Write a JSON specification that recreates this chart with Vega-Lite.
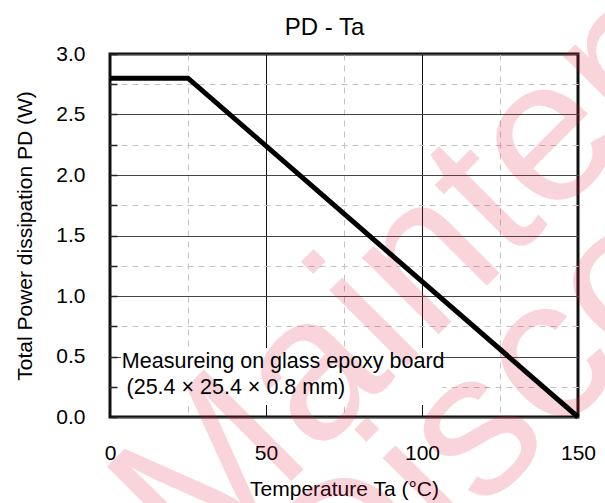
{
  "$schema": "https://vega.github.io/schema/vega-lite/v6.json",
  "autosize": "none",
  "width": 468,
  "height": 363,
  "padding": {"left": 110, "top": 54, "right": 27, "bottom": 86},
  "background": "white",
  "config": {
    "font": "Liberation Sans",
    "view": {"stroke": "#111", "strokeWidth": 3}
  },
  "datasets": {
    "curve": [
      {"ta": 0, "pd": 2.8},
      {"ta": 25, "pd": 2.8},
      {"ta": 150, "pd": 0}
    ],
    "box": [
      {"x1": 3.5, "x2": 106.5, "y1": 0.1, "y2": 0.57}
    ],
    "note": [
      {"ta": 3.8, "pd": 0.452, "label": "Measureing on glass epoxy board"},
      {"ta": 5.3, "pd": 0.238, "label": "(25.4 × 25.4 × 0.8 mm)"}
    ],
    "heading": [
      {"ta": 68.75, "pd": 3.157, "label": "PD - Ta"}
    ],
    "mark": [
      {"ta": 27.2, "pd": -1.33, "label": "Maintenance"},
      {"ta": 75.3, "pd": -1.917, "label": "Discontinued"}
    ]
  },
  "encoding": {
    "x": {
      "field": "ta",
      "type": "quantitative",
      "scale": {"domain": [0, 150], "nice": false, "zero": false},
      "axis": {
        "title": "Temperature Ta (°C)",
        "values": [0, 25, 50, 75, 100, 125, 150],
        "labelExpr": "datum.value % 50 === 0 ? datum.label : ''",
        "labelFlush": false,
        "labelFontSize": 21,
        "labelColor": "black",
        "labelPadding": 25,
        "labelBaseline": "top",
        "titleFontSize": 21,
        "titleFontWeight": "normal",
        "titleColor": "black",
        "titlePadding": 15,
        "ticks": false,
        "domain": false,
        "grid": true,
        "gridColor": {"condition": {"test": "datum.value % 50 !== 0", "value": "#c4c4c4"}, "value": "#111"},
        "gridDash": {"condition": {"test": "datum.value % 50 !== 0", "value": [6, 5]}, "value": []},
        "gridWidth": 1,
        "gridOpacity": 1
      }
    },
    "y": {
      "field": "pd",
      "type": "quantitative",
      "scale": {"domain": [0, 3], "nice": false, "zero": false},
      "axis": {
        "title": "Total Power dissipation PD (W)",
        "values": [0, 0.25, 0.5, 0.75, 1, 1.25, 1.5, 1.75, 2, 2.25, 2.5, 2.75, 3],
        "format": ".1f",
        "labelExpr": "(datum.value * 4) % 2 === 0 ? datum.label : ''",
        "labelFlush": false,
        "labelFontSize": 21,
        "labelColor": "black",
        "labelPadding": 32,
        "tickSize": -7,
        "tickColor": "#222",
        "tickWidth": 1.5,
        "titleFontSize": 21,
        "titleFontWeight": "normal",
        "titleColor": "black",
        "titlePadding": 20,
        "domain": false,
        "grid": true,
        "gridColor": {"condition": {"test": "(datum.value * 4) % 2 === 1", "value": "#c4c4c4"}, "value": "#444"},
        "gridDash": {"condition": {"test": "(datum.value * 4) % 2 === 1", "value": [6, 5]}, "value": []},
        "gridWidth": 1.2,
        "gridOpacity": 1
      }
    }
  },
  "layer": [
    {
      "data": {"name": "box"},
      "mark": {"type": "rect", "fill": "white", "stroke": null},
      "encoding": {
        "x": {"field": "x1", "type": "quantitative"},
        "x2": {"field": "x2"},
        "y": {"field": "y1", "type": "quantitative"},
        "y2": {"field": "y2"}
      }
    },
    {
      "data": {"name": "mark"},
      "mark": {
        "type": "text",
        "fontSize": 205,
        "font": "Liberation Sans",
        "angle": -45,
        "align": "left",
        "baseline": "alphabetic",
        "fill": "#e3173f",
        "opacity": 0.18,
        "clip": false
      },
      "encoding": {
        "text": {"field": "label"}
      }
    },
    {
      "data": {"name": "curve"},
      "mark": {"type": "line", "color": "black", "strokeWidth": 5, "strokeJoin": "miter", "clip": false}
    },
    {
      "data": {"name": "note"},
      "mark": {"type": "text", "fontSize": 21.5, "align": "left", "baseline": "middle", "color": "black"},
      "encoding": {
        "text": {"field": "label"}
      }
    },
    {
      "data": {"name": "heading"},
      "mark": {"type": "text", "fontSize": 24, "align": "center", "baseline": "alphabetic", "color": "black", "clip": false},
      "encoding": {
        "text": {"field": "label"}
      }
    }
  ]
}
